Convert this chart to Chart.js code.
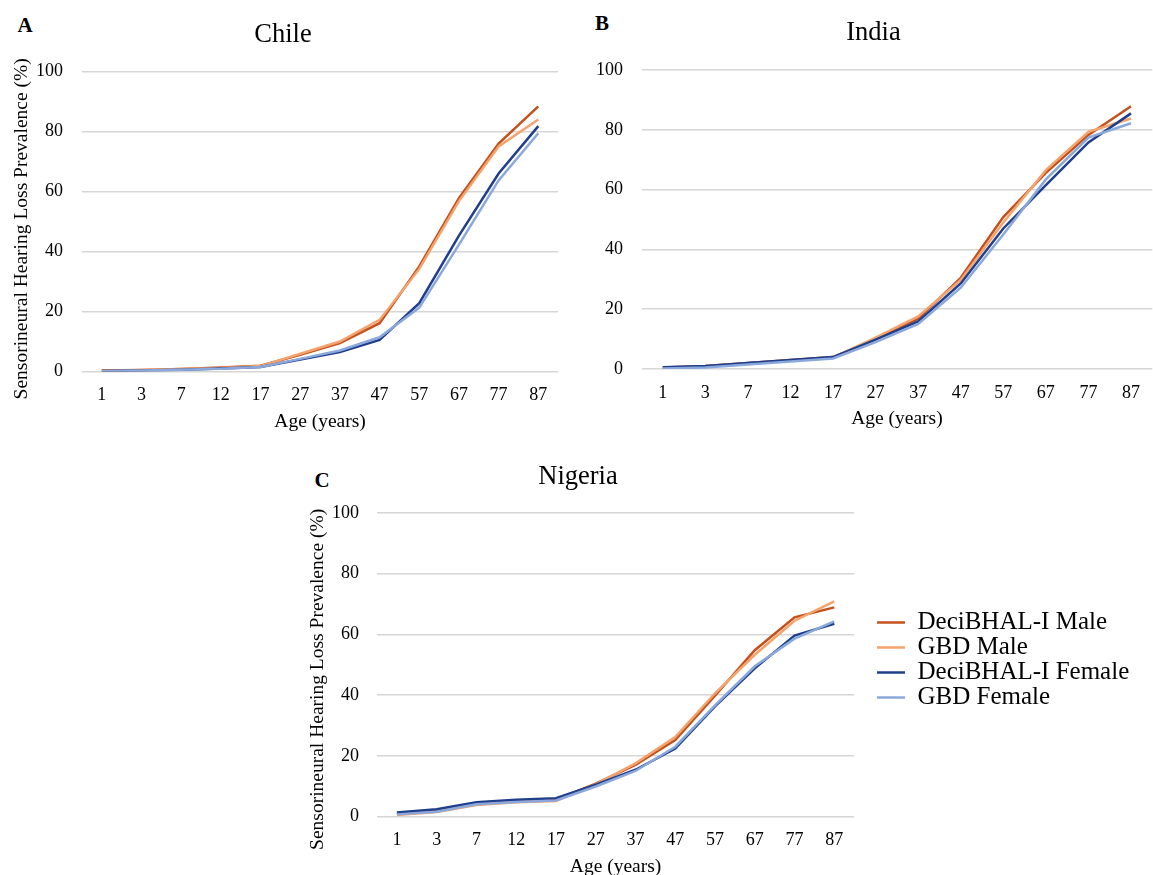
<!DOCTYPE html>
<html>
<head>
<meta charset="utf-8">
<script src="https://cdn.jsdelivr.net/npm/chart.js@4.4.1/dist/chart.umd.min.js"></script>
<style>
  html, body { margin: 0; padding: 0; width: 1153px; height: 875px; overflow: hidden; background: #fff; }
  canvas { position: absolute; display: block; }
  .panel { position: absolute; font-family: 'Liberation Serif', 'Times New Roman', serif; font-weight: bold; font-size: 21px; color: #000; transform: translate(-50%, -50%); line-height: 1; }
</style>
</head>
<body>
<div class="panel" style="left:25px; top:25px;">A</div>
<div class="panel" style="left:602px; top:23px;">B</div>
<div class="panel" style="left:322px; top:480px;">C</div>
<canvas id="chartA" width="560" height="440" style="left:0px; top:0px;"></canvas>
<canvas id="chartB" width="563" height="440" style="left:590px; top:0px;"></canvas>
<canvas id="chartC" width="556" height="430" style="left:300px; top:450px;"></canvas>
<canvas id="legend" width="276" height="260" style="left:877px; top:610px;"></canvas>
<script>
// ---------- data ----------
const ages = ['1', '3', '7', '12', '17', '27', '37', '47', '57', '67', '77', '87'];
const seriesNames = ['DeciBHAL-I Male', 'GBD Male', 'DeciBHAL-I Female', 'GBD Female'];
const seriesColors = ['#C4501C', '#F4A36C', '#1F3E8C', '#8AA8DC'];
const yTickValues = [0, 20, 40, 60, 80, 100];

const chileDeciMale   = [0.3, 0.5, 0.8, 1.3, 1.9, 5.6, 9.5, 16.1, 35.0, 57.8, 76.0, 88.4];
const chileGbdMale    = [0.2, 0.5, 0.8, 1.2, 1.8, 5.9, 10.0, 17.2, 34.2, 56.8, 75.0, 84.0];
const chileDeciFemale = [0.2, 0.3, 0.6, 1.0, 1.5, 4.0, 6.5, 10.5, 22.8, 45.3, 66.0, 81.8];
const chileGbdFemale  = [0.1, 0.3, 0.6, 0.9, 1.5, 4.2, 7.0, 11.4, 21.3, 42.3, 63.7, 79.4];

const indiaDeciMale   = [0.5, 1.0, 2.0, 3.0, 4.0, 10.0, 16.8, 30.5, 50.8, 65.6, 78.3, 87.9];
const indiaGbdMale    = [0.3, 0.8, 1.8, 2.8, 3.8, 10.5, 17.6, 29.8, 49.0, 66.5, 79.3, 83.8];
const indiaDeciFemale = [0.6, 1.0, 2.0, 3.0, 4.0, 9.8, 15.9, 28.6, 47.0, 61.5, 75.8, 85.5];
const indiaGbdFemale  = [0.2, 0.5, 1.5, 2.5, 3.5, 9.0, 15.1, 27.2, 45.0, 63.4, 77.4, 82.2];

const nigeriaDeciMale   = [0.9, 1.8, 4.0, 5.0, 5.5, 10.8, 17.0, 25.2, 39.8, 54.8, 65.6, 68.9];
const nigeriaGbdMale    = [0.5, 1.5, 3.8, 4.7, 5.1, 10.6, 17.5, 26.2, 40.6, 53.3, 64.5, 70.9];
const nigeriaDeciFemale = [1.3, 2.4, 4.7, 5.5, 6.0, 10.5, 15.4, 22.4, 36.3, 48.8, 59.6, 63.5];
const nigeriaGbdFemale  = [0.7, 1.6, 4.0, 4.8, 5.3, 9.9, 15.0, 23.0, 36.6, 49.5, 58.6, 64.3];

const xTitle = 'Age (years)';
const yTitle = 'Sensorineural Hearing Loss Prevalence (%)';

// ---------- rendering ----------
const SERIF = "'Liberation Serif', 'Times New Roman', serif";
Chart.defaults.font.family = SERIF;
Chart.defaults.color = '#000';

function datasets(values) {
  return values.map((v, i) => ({
    label: seriesNames[i],
    data: v,
    borderColor: seriesColors[i],
    backgroundColor: seriesColors[i],
    borderWidth: 2.5,
    pointRadius: 0,
    tension: 0,
    fill: false,
    order: values.length - 1 - i
  }));
}

function makeChart(id, title, values, p) {
  new Chart(document.getElementById(id), {
    type: 'line',
    data: { labels: ages, datasets: datasets(values) },
    options: {
      responsive: false,
      animation: false,
      devicePixelRatio: 1,
      layout: { padding: { left: p.pl, right: 0, top: 0, bottom: 0 } },
      plugins: {
        legend: { display: false },
        tooltip: { enabled: false },
        title: {
          display: true, text: title, color: '#000',
          font: { family: SERIF, size: 26.5, weight: 'normal' },
          padding: { top: p.tpt, bottom: p.tpb }
        }
      },
      scales: {
        x: {
          type: 'category', offset: true,
          grid: { display: false, drawTicks: false },
          border: { display: false },
          ticks: { color: '#000', font: { family: SERIF, size: 18 }, padding: p.xpad, maxRotation: 0, autoSkip: false },
          title: { display: true, text: xTitle, color: '#000', font: { family: SERIF, size: 19.5 }, padding: { top: 0, bottom: p.xtpb } },
          afterFit: s => { s.height = p.xh; }
        },
        y: {
          min: 0, max: 100,
          afterBuildTicks: s => { s.ticks = yTickValues.map(v => ({ value: v })); },
          grid: { color: '#d6d6d6', lineWidth: 1.5, drawTicks: false },
          border: { display: false },
          ticks: { color: '#000', font: { family: SERIF, size: 18 }, padding: p.ypad },
          title: p.ytitle ? { display: true, text: p.ytitle, color: '#000', font: { family: SERIF, size: 19.5 }, padding: { top: p.ytpt, bottom: 0 } } : { display: false },
          afterFit: s => { s.width = p.yw; }
        }
      }
    }
  });
}

makeChart('chartA', 'Chile', [chileDeciMale, chileGbdMale, chileDeciFemale, chileGbdFemale],
  { pl: 6, yw: 76, ypad: 19, ytitle: yTitle + '   ', ytpt: 3.8, tpt: 19.1, tpb: 20.6, xh: 68.5, xpad: 12.7, xtpb: 6.8 });

makeChart('chartB', 'India', [indiaDeciMale, indiaGbdMale, indiaDeciFemale, indiaGbdFemale],
  { pl: 4, yw: 47.5, ypad: 18.5, ytitle: null, tpt: 17.1, tpb: 21.1, xh: 71, xpad: 13, xtpb: 9.3 });

makeChart('chartC', 'Nigeria', [nigeriaDeciMale, nigeriaGbdMale, nigeriaDeciFemale, nigeriaGbdFemale],
  { pl: 0, yw: 77, ypad: 18, ytitle: yTitle + '      ', ytpt: 6.3, tpt: 11.1, tpb: 20.1, xh: 63.5, xpad: 12.7, xtpb: 1.8 });

// Shared legend (its own Chart.js instance, placed right of panel C)
new Chart(document.getElementById('legend'), {
  type: 'line',
  data: {
    labels: [],
    datasets: seriesNames.map((n, i) => ({ label: n, data: [], borderColor: seriesColors[i], backgroundColor: seriesColors[i], borderWidth: 0 }))
  },
  options: {
    responsive: false,
    animation: false,
    devicePixelRatio: 1,
    layout: { padding: 0 },
    scales: { x: { display: false }, y: { display: false } },
    plugins: {
      tooltip: { enabled: false },
      title: { display: false },
      legend: {
        display: true, position: 'top', align: 'start',
        labels: { boxWidth: 28, boxHeight: 2.5, padding: 0, color: '#000', font: { family: SERIF, size: 25 } }
      }
    }
  }
});
</script>
</body>
</html>
